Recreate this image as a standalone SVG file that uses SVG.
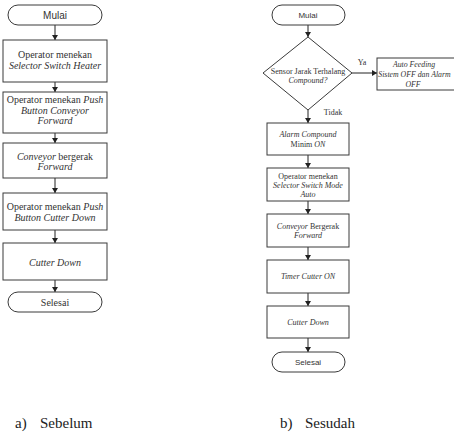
<svg xmlns="http://www.w3.org/2000/svg" width="454" height="442" viewBox="0 0 454 442">
<style>
.s{fill:#fff;stroke:#3a3a3a;stroke-width:1}
.t{font-family:"Liberation Serif","Times New Roman",serif;font-size:10px;fill:#333;text-anchor:middle}
.r{font-family:"Liberation Serif","Times New Roman",serif;font-size:8px;fill:#333;text-anchor:middle}
.a{font-family:"Liberation Sans",Arial,sans-serif;font-size:8px;fill:#333;text-anchor:middle}
.a10{font-size:10px}
.r78{font-size:7.8px}
.i{font-style:italic}
.c{stroke:#222;stroke-width:1;fill:none;marker-end:url(#ah)}
.cap{font-family:"Liberation Serif","Times New Roman",serif;font-size:15px;fill:#222}
</style>
<defs>
<marker id="ah" markerWidth="6" markerHeight="6" refX="5" refY="3" orient="auto" markerUnits="userSpaceOnUse">
<path d="M0,0 L5,3 L0,6 Z" fill="#222"/>
</marker>
</defs>
<g id="connectors">
<line class="c" x1="55" y1="25" x2="55" y2="40"/>
<line class="c" x1="55" y1="82" x2="55" y2="92"/>
<line class="c" x1="55" y1="133" x2="55" y2="143"/>
<line class="c" x1="55" y1="178" x2="55" y2="193"/>
<line class="c" x1="55" y1="230" x2="55" y2="243"/>
<line class="c" x1="55" y1="280" x2="55" y2="292"/>
<line class="c" x1="308" y1="25" x2="308" y2="37"/>
<line class="c" x1="352" y1="73" x2="377" y2="73"/>
<line class="c" x1="308" y1="110" x2="308" y2="123"/>
<line class="c" x1="308" y1="155" x2="308" y2="168"/>
<line class="c" x1="308" y1="201" x2="308" y2="214"/>
<line class="c" x1="308" y1="247" x2="308" y2="260"/>
<line class="c" x1="308" y1="293" x2="308" y2="306"/>
<line class="c" x1="308" y1="338" x2="308" y2="352"/>
<text class="r" x="362" y="65">Ya</text>
<text class="r" x="333" y="115">Tidak</text>
</g>
<g id="l-mulai"><rect class="s" x="8" y="5" width="94" height="20" rx="10"/><text class="a a10" x="55" y="18.5">Mulai</text></g>
<g id="l-b1"><rect class="s" x="3" y="40" width="104" height="42"/><text class="t" x="55" y="58">Operator menekan</text><text class="t i" x="55" y="69">Selector Switch Heater</text></g>
<g id="l-b2"><rect class="s" x="3" y="92" width="104" height="41"/><text class="t" x="55" y="103">Operator menekan <tspan class="i">Push</tspan></text><text class="t i" x="55" y="113.5">Button Conveyor</text><text class="t i" x="55" y="124">Forward</text></g>
<g id="l-b3"><rect class="s" x="3" y="143" width="104" height="35"/><text class="t" x="55" y="159.5"><tspan class="i">Conveyor</tspan> bergerak</text><text class="t i" x="55" y="169.5">Forward</text></g>
<g id="l-b4"><rect class="s" x="3" y="193" width="104" height="37"/><text class="t" x="55" y="210">Operator menekan <tspan class="i">Push</tspan></text><text class="t i" x="55" y="221">Button Cutter Down</text></g>
<g id="l-b5"><rect class="s" x="3" y="243" width="104" height="37"/><text class="t i" x="55" y="265.5">Cutter Down</text></g>
<g id="l-selesai"><rect class="s" x="8" y="292" width="94" height="20" rx="10"/><text class="t" x="55" y="305.5">Selesai</text></g>
<g id="r-mulai"><rect class="s" x="272" y="5" width="73" height="20" rx="10"/><text class="a" x="308" y="18">Mulai</text></g>
<g id="r-dec"><polygon class="s" points="308,37 352,73 308,110 263,73"/><text class="r" x="308" y="74">Sensor Jarak Terhalang</text><text class="r i" x="308" y="83">Compound?</text></g>
<g id="r-auto"><rect class="s" x="377" y="58" width="90" height="32"/><text class="r r78 i" x="414" y="67">Auto Feeding</text><text class="r r78 i" x="414.5" y="77">Sistem OFF dan Alarm</text><text class="r r78 i" x="413" y="87">OFF</text></g>
<g id="r-b1"><rect class="s" x="267" y="123" width="82" height="32"/><text class="r i" x="308" y="137">Alarm Compound</text><text class="r" x="308" y="147">Minim <tspan class="i">ON</tspan></text></g>
<g id="r-b2"><rect class="s" x="267" y="168" width="82" height="33"/><text class="r" x="308" y="179">Operator menekan</text><text class="r i" x="308" y="188">Selector Switch Mode</text><text class="r i" x="308" y="197">Auto</text></g>
<g id="r-b3"><rect class="s" x="267" y="214" width="82" height="33"/><text class="r" x="308" y="229"><tspan class="i">Conveyor</tspan> Bergerak</text><text class="r i" x="308" y="238">Forward</text></g>
<g id="r-b4"><rect class="s" x="267" y="260" width="82" height="33"/><text class="r i" x="308" y="279">Timer Cutter ON</text></g>
<g id="r-b5"><rect class="s" x="267" y="306" width="82" height="32"/><text class="r i" x="308" y="325">Cutter Down</text></g>
<g id="r-selesai"><rect class="s" x="272" y="352" width="73" height="20" rx="10"/><text class="a" x="308" y="365">Selesai</text></g>
<text class="cap" x="15" y="428">a)<tspan x="40">Sebelum</tspan></text>
<text class="cap" x="280" y="428">b)<tspan x="305">Sesudah</tspan></text>
</svg>
